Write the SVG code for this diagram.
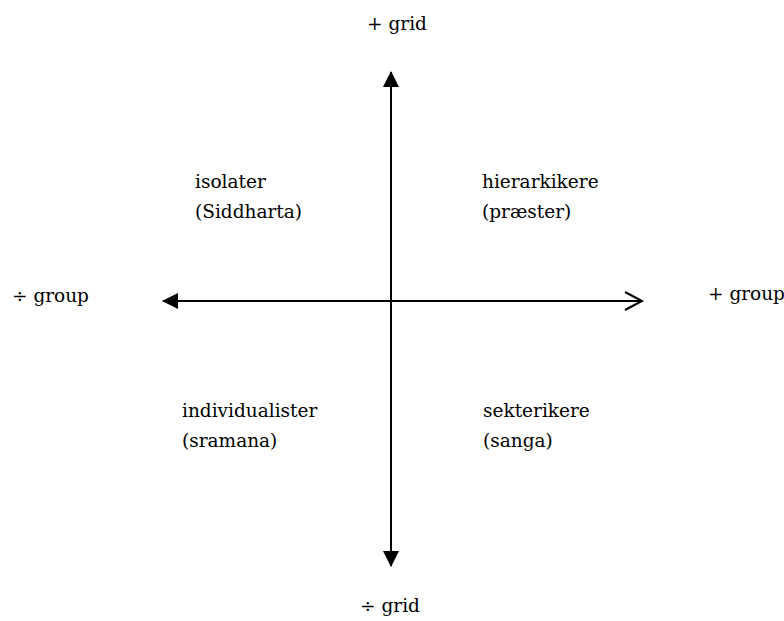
<svg xmlns="http://www.w3.org/2000/svg" width="784" height="621" viewBox="0 0 784 621">
<style>
text{font-family:"DejaVu Serif","Liberation Serif",serif;font-size:18.5px;fill:#000}
.ax{stroke:#000;stroke-width:2;fill:none}
</style>
<defs>
<marker id="solid" markerUnits="userSpaceOnUse" markerWidth="20" markerHeight="20" refX="15" refY="8" orient="auto">
<path d="M0,0 L16,8 L0,16 Z" fill="#000"/>
</marker>
<marker id="open" markerUnits="userSpaceOnUse" markerWidth="22" markerHeight="22" refX="18" refY="10" orient="auto">
<path d="M1,1 L18,10 L1,19" fill="none" stroke="#000" stroke-width="2"/>
</marker>
</defs>
<rect width="784" height="621" fill="#fff"/>
<g id="connectors">
<line class="ax" x1="391" y1="301" x2="391" y2="72" marker-end="url(#solid)"/>
<line class="ax" x1="391" y1="301" x2="391" y2="566" marker-end="url(#solid)"/>
<line class="ax" x1="391" y1="301" x2="163" y2="301" marker-end="url(#solid)"/>
<line class="ax" x1="391" y1="301" x2="642" y2="301" marker-end="url(#open)"/>
</g>
<g id="plus-grid"><text x="397" y="30" text-anchor="middle">+ grid</text></g>
<g id="minus-grid"><text x="390" y="612" text-anchor="middle">÷ grid</text></g>
<g id="minus-group"><text x="12" y="302">÷ group</text></g>
<g id="plus-group"><text x="708" y="300">+ group</text></g>
<g id="isolater">
<text x="195" y="188">isolater</text>
<text x="195" y="218">(Siddharta)</text>
</g>
<g id="hierarkikere">
<text x="482" y="188">hierarkikere</text>
<text x="482" y="218">(præster)</text>
</g>
<g id="individualister">
<text x="182" y="417">individualister</text>
<text x="182" y="447">(sramana)</text>
</g>
<g id="sekterikere">
<text x="483" y="417">sekterikere</text>
<text x="483" y="447">(sanga)</text>
</g>
</svg>
